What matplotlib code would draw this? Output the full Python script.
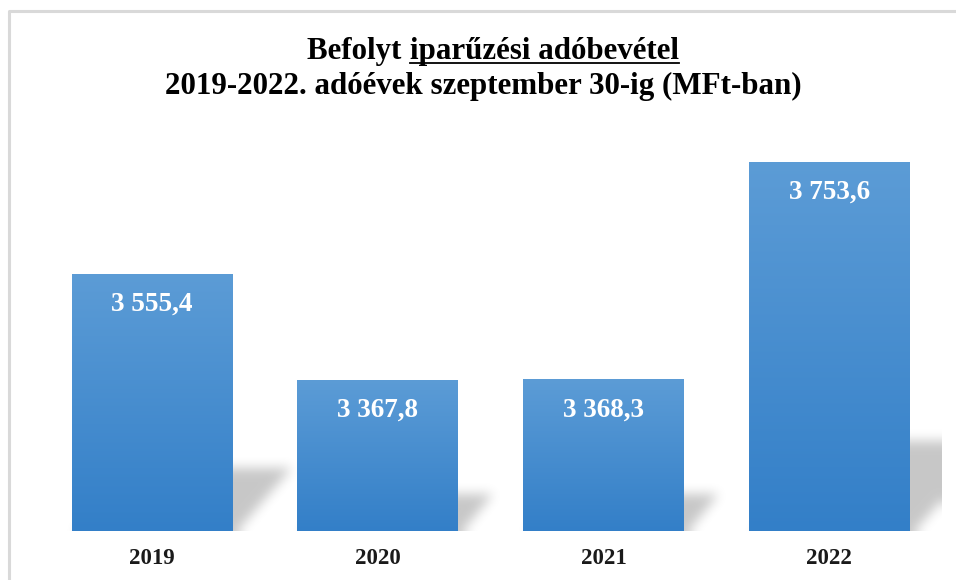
import numpy as np
import matplotlib.pyplot as plt
from matplotlib.path import Path
from matplotlib.lines import Line2D

# data (MFt)
years = ['2019', '2020', '2021', '2022']
values = [3555.4, 3367.8, 3368.3, 3753.6]
value_labels = ['3 555,4', '3 367,8', '3 368,3', '3 753,6']
title_plain = 'Befolyt '
title_under = 'iparűzési adóbevétel'
subtitle = '2019-2022. adóévek szeptember 30-ig (MFt-ban)'
y_min, y_max = 3100, 3800

W, H = 956, 580
plt.rcParams['font.family'] = ['Liberation Serif', 'DejaVu Serif']

fig = plt.figure(figsize=(W / 100, H / 100), dpi=100)
fig.patch.set_facecolor('white')
ax = fig.add_axes([39 / W, (H - 531) / H, (942 - 39) / W, (531 - 135.5) / H])

x = np.arange(len(years))
heights = np.array(values) - y_min
bars = ax.bar(x, heights, bottom=y_min, width=0.71, color='none',
              edgecolor='none', zorder=3)
ax.set_xlim(-0.5, len(years) - 0.5)
ax.set_ylim(y_min, y_max)

# vertical gradient inside each bar
top_c = np.array([92, 156, 214]) / 255
bot_c = np.array([51, 127, 200]) / 255
t = np.linspace(0, 1, 256)[:, None]
grad = (bot_c[None, :] * (1 - t) + top_c[None, :] * t)[:, None, :]
for b in bars:
    x0, y0 = b.get_x(), b.get_y()
    im = ax.imshow(grad, extent=[x0, x0 + b.get_width(), y0, y0 + b.get_height()],
                   origin='lower', aspect='auto', zorder=3, interpolation='bilinear')
    im.set_clip_path(b)

# perspective shadow behind the bars, blurred
fig.canvas.draw()
bb = ax.get_window_extent()
pw, ph = int(round(bb.width)), int(round(bb.height))
gx, gy = np.meshgrid(np.arange(pw) + 0.5, np.arange(ph) + 0.5)
pts = np.column_stack([gx.ravel(), gy.ravel()])
mask = np.zeros(pw * ph)
for b in bars:
    (px0, py0) = ax.transData.transform((b.get_x(), b.get_y())) - bb.p0
    (px1, py1) = ax.transData.transform((b.get_x() + b.get_width(),
                                         b.get_y() + b.get_height())) - bb.p0
    sh = 0.245 * (py1 - py0)
    sk = 0.95 * sh
    poly = Path([(px0, py0 - 6), (px1, py0 - 6), (px1 + sk, py0 + sh),
                 (px0 + sk, py0 + sh), (px0, py0 - 6)])
    mask = np.maximum(mask, poly.contains_points(pts).astype(float))
mask = mask.reshape(ph, pw)


def box_blur(a, r, axis):
    k = np.ones(2 * r + 1) / (2 * r + 1)
    return np.apply_along_axis(lambda v: np.convolve(np.pad(v, r, mode='edge'), k, mode='valid'), axis, a)


for _ in range(3):
    mask = box_blur(mask, 5, 0)
    mask = box_blur(mask, 5, 1)

shadow = np.zeros((ph, pw, 4))
shadow[..., 3] = 0.22 * mask
ax.imshow(shadow, extent=[-0.5, len(years) - 0.5, y_min, y_max], origin='lower',
          aspect='auto', zorder=1, interpolation='bilinear')
ax.set_xlim(-0.5, len(years) - 0.5)
ax.set_ylim(y_min, y_max)

for xi, v, lab in zip(x, values, value_labels):
    ax.annotate(lab, (xi, v), xytext=(0, -22), textcoords='offset points',
                ha='center', va='center', color='white', fontsize=19.5,
                fontweight='bold', zorder=5)

ax.set_xticks(x)
ax.set_xticklabels(years, fontsize=16.5, fontweight='bold', color='#1a1a1a')
ax.tick_params(axis='x', length=0, pad=12)
ax.set_yticks([])
for s in ax.spines.values():
    s.set_visible(False)
ax.patch.set_alpha(0)

# chart border (top and left edges visible)
fig.add_artist(Line2D([9 / W, 9 / W, 1], [0, 1 - 11 / H, 1 - 11 / H],
                      color='#d9d9d9', lw=2.2, transform=fig.transFigure))

# title with underlined part
fs_title = 22.3
r = fig.canvas.get_renderer()
tp = fig.text(0, 0, title_plain, fontsize=fs_title, fontweight='bold')
tu = fig.text(0, 0, title_under, fontsize=fs_title, fontweight='bold')
wp = tp.get_window_extent(r).width
wu = tu.get_window_extent(r).width
xs = 493 - (wp + wu) / 2
yb = H - 59
tp.set_position((xs / W, yb / H))
tp.set_va('baseline')
tu.set_position(((xs + wp) / W, yb / H))
tu.set_va('baseline')
fig.add_artist(Line2D([(xs + wp) / W, (xs + wp + wu) / W], [(yb - 3.5) / H] * 2,
                      color='black', lw=1.3, transform=fig.transFigure))
fig.text(483 / W, (H - 94) / H, subtitle, fontsize=fs_title, fontweight='bold',
         ha='center', va='baseline')

fig.savefig('out.png', dpi=100)
